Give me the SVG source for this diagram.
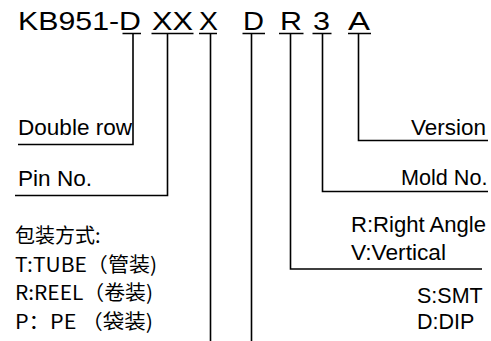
<svg xmlns="http://www.w3.org/2000/svg" width="491" height="341" viewBox="0 0 491 341">
<style>
.t{font-family:"Liberation Sans",Arial,sans-serif;font-size:25px;fill:#000}
.l{font-family:"Liberation Sans",Arial,sans-serif;font-size:21.5px;fill:#000}
.c{font-family:"Noto Sans CJK SC","Liberation Sans",sans-serif;font-size:20px;fill:#000}
.k{fill:none;stroke:#000;stroke-width:1.6}
</style>
<rect width="491" height="341" fill="#fff"/>
<g id="title">
<text class="t" x="18" y="30" textLength="123" lengthAdjust="spacingAndGlyphs">KB951-D</text>
<text class="t" x="152" y="30" textLength="41" lengthAdjust="spacingAndGlyphs">XX</text>
<text class="t" x="199" y="30" textLength="19" lengthAdjust="spacingAndGlyphs">X</text>
<text class="t" x="243" y="30" textLength="21" lengthAdjust="spacingAndGlyphs">D</text>
<text class="t" x="280" y="30" textLength="22" lengthAdjust="spacingAndGlyphs">R</text>
<text class="t" x="313" y="30" textLength="17" lengthAdjust="spacingAndGlyphs">3</text>
<text class="t" x="348" y="30" textLength="22" lengthAdjust="spacingAndGlyphs">A</text>
</g>
<g id="connectors">
<path class="k" d="M122.5,33.5H141M151.5,33.5H193.5M199,33.5H217M242.5,33.5H265M279,33.5H303.5M312.5,33.5H331.5M348,33.5H371"/>
<path class="k" d="M133,33.5V144.5H18"/>
<path class="k" d="M167.5,33.5V195.5H15"/>
<path class="k" d="M210.5,33.5V341"/>
<path class="k" d="M251.5,33.5V341"/>
<path class="k" d="M290.5,33.5V269H482"/>
<path class="k" d="M322.5,33.5V191.5H488"/>
<path class="k" d="M358.5,33.5V140.5H488"/>
</g>
<g id="double-row"><text class="l" x="18" y="135" textLength="114" lengthAdjust="spacingAndGlyphs">Double row</text></g>
<g id="pin-no"><text class="l" x="18" y="185.5" textLength="74" lengthAdjust="spacingAndGlyphs">Pin No.</text></g>
<g id="version"><text class="l" x="411" y="135" textLength="75" lengthAdjust="spacingAndGlyphs">Version</text></g>
<g id="mold-no"><text class="l" x="401" y="185" textLength="86.5" lengthAdjust="spacingAndGlyphs">Mold No.</text></g>
<g id="orientation">
<text class="l" x="351" y="232" textLength="135" lengthAdjust="spacingAndGlyphs">R:Right Angle</text>
<text class="l" x="351" y="260" textLength="95" lengthAdjust="spacingAndGlyphs">V:Vertical</text>
</g>
<g id="mount">
<text class="l" x="417" y="303">S:SMT</text>
<text class="l" x="417" y="329">D:DIP</text>
</g>
<g id="packaging">
<text class="c" x="15" y="243">包装方式:</text>
<text class="c" x="15" y="271.5" textLength="142" lengthAdjust="spacingAndGlyphs">T:TUBE（管装)</text>
<text class="c" x="15" y="300" textLength="138" lengthAdjust="spacingAndGlyphs">R:REEL（卷装)</text>
<text class="c" x="15" y="328.5" textLength="138" lengthAdjust="spacingAndGlyphs">P：PE （袋装)</text>
</g>
</svg>
